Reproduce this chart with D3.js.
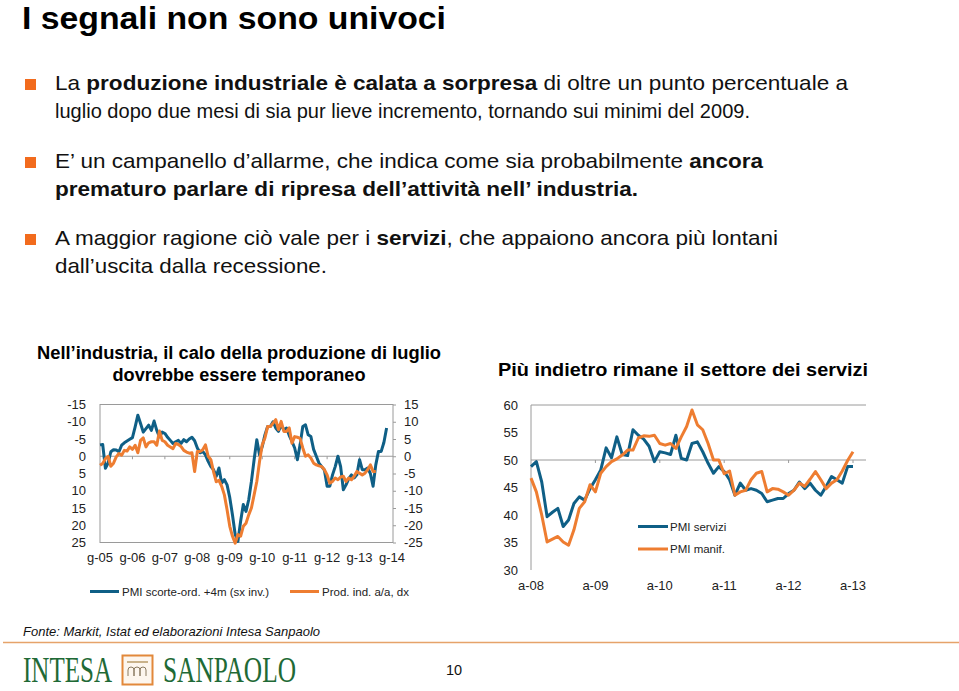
<!DOCTYPE html>
<html>
<head>
<meta charset="utf-8">
<script src="https://cdn.jsdelivr.net/npm/d3@7"></script>
<style>
  html, body { margin: 0; padding: 0; background: #fff; }
  svg { display: block; font-family: "Liberation Sans", Arial, sans-serif; }
</style>
</head>
<body>
<svg id="chart" width="959" height="691"></svg>
<script>
// ---------------- DATA ----------------
// Left chart: monthly, from g-05 (Jan 2005)
const leftCategories = ["g-05","g-06","g-07","g-08","g-09","g-10","g-11","g-12","g-13","g-14"];
const leftAxisTicks = [-15,-10,-5,0,5,10,15,20,25];     // left axis (inverted)
const rightAxisTicks = [15,10,5,0,-5,-10,-15,-20,-25];  // right axis
// PMI scorte-ord. +4m (left axis, inverted scale)
const pmiScorte = [
  -3.3,-3.4,3.5,2,-1.3,-1.9,-1.8,-1.3,-3.2,-3.9,-4.4,-4.9,
  -5.4,-8.5,-11.9,-9.5,-7,-8,-9,-7.5,-10.2,-7.5,-5.6,-7,
  -6.6,-5.5,-4.6,-3.7,-4.2,-4.6,-3.7,-4.8,-4.2,-5,-5.5,-4.5,
  -2.4,-1,-1.4,-0.4,1.5,3,3.9,5.8,3.4,7.8,6.8,8.3,
  12,17,22.7,24.7,18.9,14,16,12.6,7.3,1,-4.8,-0.4,
  -2.8,-6.2,-8.6,-8.6,-10,-8.2,-7.2,-9,-7.7,-8.2,-6,-4.3,
  -2.4,1,-3.3,-8.6,-9.1,-6.2,-5.7,-2,0,2,3,4,
  8.7,8.7,5.4,3,0,3,9.7,8.3,6.5,5.4,6.3,5.4,
  1,3.9,3.9,3.4,5,8.7,2.5,-1.4,-1.4,-4,-8.2
];
// Prod. ind. a/a (right axis)
const prodInd = [
  -2.6,-2.1,-0.7,0,-2.9,-2,-0.2,0.8,0.3,1.7,1.5,2.7,
  2,3.2,1,4.6,5.3,2.7,3.9,4.2,4.2,3.2,7.3,4.6,
  4.2,3.2,2.7,2.2,3.7,3.4,2.8,1.7,1.2,0.9,1,-4.4,
  1.4,1.4,1.9,3.3,0,-1,-4.5,-7.4,-7,-8.7,-11.2,-15.5,
  -20.3,-23.2,-25.2,-22.7,-23.2,-20.3,-19.4,-17,-15,-11.2,-7.3,-1.5,
  3.3,5.3,8.6,8.6,9.6,10.6,7.7,10.1,7.2,7.2,8.2,3.8,
  5.7,5.5,5.2,2.4,0,0.4,-0.5,-2,-2.5,-2.8,-3,-3.9,
  -5.4,-7.8,-7.3,-6.3,-6.8,-6,-5.8,-7.3,-6.3,-6.8,-5.8,-4.4,
  -4.9,-5.4,-4.9,-3.9,-2.5,-4.4,-4.4
];

// Right chart: monthly, from a-08
const rightCategories = ["a-08","a-09","a-10","a-11","a-12","a-13"];
const rightYTicks = [30,35,40,45,50,55,60];
const pmiServizi = [
  48.8,49.7,46,39.7,40.5,41.2,37.9,39.1,42.1,43.3,42.7,44.8,
  46.4,48.2,52.2,50.4,54.2,51,50.8,55.5,54.5,53.8,52.5,49.7,
  51.5,51.3,51,54.5,50.3,50,53,53.3,51.5,49.4,47.6,48.8,
  47.9,46.4,43.6,45.8,44.5,44.8,44.5,43.9,42.4,42.7,43,43,
  43.9,44.5,46,44.8,45.8,44.5,43.6,45.2,47,46.4,45.8,48.8,48.8
];
const pmiManif = [
  46.7,44.2,40,35.1,35.6,36.1,35.1,34.5,37.3,41.2,42.4,45.5,
  44.2,47.6,48.8,49.7,50.2,50.9,51.8,51.8,54,54.4,54.3,54.5,
  53,52.7,53,52.1,54.2,56.1,59.1,56.4,55.5,53,50,50,
  47.5,48,43.6,44.2,44.5,46.4,47.6,47.9,44.2,44.8,44.7,44.2,
  43.6,44.5,45.8,45.2,46.5,47.9,46.4,44.8,45.8,46.4,48,49.9,51.5
];

const BLUE = "#0f5f86";
const ORANGE = "#ee7d31";
const GRID = "#9a9a9a";
const AXFONT = 13;

const svg = d3.select("#chart");
svg.append("rect").attr("width", 959).attr("height", 691).attr("fill", "#fff");

// ---------------- HEADER ----------------
svg.append("text").attr("x", 22).attr("y", 29)
  .attr("font-size", 31.5).attr("font-weight", "bold").attr("fill", "#000")
  .attr("textLength", 424).attr("lengthAdjust", "spacingAndGlyphs")
  .text("I segnali non sono univoci");

const bullets = [
  {y: 90, sq: 79, lines: [
    {w: 793, parts: [["La ", false], ["produzione industriale è calata a sorpresa", true], [" di oltre un punto percentuale a", false]]},
    {w: 695, parts: [["luglio dopo due mesi di sia pur lieve incremento, tornando sui minimi del 2009.", false]]}
  ]},
  {y: 168, sq: 157, lines: [
    {w: 708, parts: [["E’ un campanello d’allarme, che indica come sia probabilmente ", false], ["ancora", true]]},
    {w: 583, parts: [["prematuro parlare di ripresa dell’attività nell’ industria.", true]]}
  ]},
  {y: 245, sq: 234, lines: [
    {w: 723, parts: [["A maggior ragione ciò vale per i ", false], ["servizi", true], [", che appaiono ancora più lontani", false]]},
    {w: 272, parts: [["dall’uscita dalla recessione.", false]]}
  ]}
];
bullets.forEach(b => {
  svg.append("rect").attr("x", 25).attr("y", b.sq).attr("width", 11).attr("height", 11).attr("fill", "#f26b1d");
  b.lines.forEach((ln, i) => {
    const t = svg.append("text").attr("x", 55).attr("y", b.y + i * 28)
      .attr("font-size", 21).attr("fill", "#111")
      .attr("textLength", ln.w).attr("lengthAdjust", "spacingAndGlyphs");
    ln.parts.forEach(p => t.append("tspan").attr("font-weight", p[1] ? "bold" : "normal").text(p[0]));
  });
});

// ---------------- LEFT CHART ----------------
const L = {x0: 100, x1: 392, y0: 404.5, y1: 542.5};
const xL = d3.scaleLinear().domain([0, 108]).range([L.x0, L.x1]);
const yLeft = d3.scaleLinear().domain([-15, 25]).range([L.y0, L.y1]);
const yRight = d3.scaleLinear().domain([15, -25]).range([L.y0, L.y1]);

svg.append("text").attr("x", 239).attr("y", 359).attr("text-anchor", "middle")
  .attr("font-size", 17.5).attr("font-weight", "bold")
  .attr("textLength", 404).attr("lengthAdjust", "spacingAndGlyphs")
  .text("Nell’industria, il calo della produzione di luglio");
svg.append("text").attr("x", 239).attr("y", 381).attr("text-anchor", "middle")
  .attr("font-size", 17.5).attr("font-weight", "bold")
  .attr("textLength", 253).attr("lengthAdjust", "spacingAndGlyphs")
  .text("dovrebbe essere temporaneo");

// box
svg.append("rect").attr("x", L.x0).attr("y", L.y0).attr("width", L.x1 - L.x0 + 1).attr("height", L.y1 - L.y0)
  .attr("fill", "none").attr("stroke", GRID).attr("stroke-width", 1);
// zero line
svg.append("line").attr("x1", L.x0).attr("x2", L.x1 + 1).attr("y1", yLeft(0)).attr("y2", yLeft(0))
  .attr("stroke", GRID).attr("stroke-width", 1);
// year ticks on zero line
svg.append("g").selectAll("line").data(leftCategories.slice(1, -1)).join("line")
  .attr("x1", (d, i) => xL((i + 1) * 12)).attr("x2", (d, i) => xL((i + 1) * 12))
  .attr("y1", yLeft(0)).attr("y2", yLeft(0) + 3).attr("stroke", GRID);

// left axis labels
const axL = svg.append("g").attr("transform", `translate(${L.x0 - 11},0)`)
  .call(d3.axisLeft(yLeft).tickValues(leftAxisTicks).tickSize(0).tickFormat(d => String(d)));
axL.select(".domain").remove();
axL.selectAll("text").attr("font-size", AXFONT).attr("fill", "#222").attr("font-family", "Liberation Sans, Arial, sans-serif");

// right axis
const axR = svg.append("g").attr("transform", `translate(${L.x1 + 1},0)`)
  .call(d3.axisRight(yRight).tickValues(rightAxisTicks).tickSize(3).tickPadding(8).tickFormat(d => String(d)));
axR.select(".domain").remove();
axR.selectAll("line").attr("stroke", GRID);
axR.selectAll("text").attr("font-size", AXFONT).attr("fill", "#222").attr("font-family", "Liberation Sans, Arial, sans-serif");

// x labels
svg.append("g").selectAll("text").data(leftCategories).join("text")
  .attr("x", (d, i) => xL(i * 12)).attr("y", 562).attr("text-anchor", "middle")
  .attr("font-size", AXFONT).attr("fill", "#222").text(d => d);

const lineBlueL = d3.line().x((d, i) => xL(i)).y(d => yLeft(d));
const lineOrL = d3.line().x((d, i) => xL(i)).y(d => yRight(d));
svg.append("path").datum(pmiScorte).attr("d", lineBlueL).attr("fill", "none")
  .attr("stroke", BLUE).attr("stroke-width", 3).attr("stroke-linejoin", "round");
svg.append("path").datum(prodInd).attr("d", lineOrL).attr("fill", "none")
  .attr("stroke", ORANGE).attr("stroke-width", 3).attr("stroke-linejoin", "round");

// legend left
const legL = [
  {x: 90, label: "PMI scorte-ord. +4m (sx inv.)", c: BLUE},
  {x: 290, label: "Prod. ind. a/a, dx", c: ORANGE}
];
legL.forEach(l => {
  svg.append("line").attr("x1", l.x).attr("x2", l.x + 29).attr("y1", 591.5).attr("y2", 591.5)
    .attr("stroke", l.c).attr("stroke-width", 3);
  svg.append("text").attr("x", l.x + 32).attr("y", 595.5).attr("font-size", 11.5).attr("fill", "#222").text(l.label);
});

// ---------------- RIGHT CHART ----------------
const R = {x0: 531, x1: 866, y0: 405, y1: 570};
const xR = d3.scaleLinear().domain([0, 60]).range([531, 853]);
const yR = d3.scaleLinear().domain([30, 60]).range([R.y1, R.y0]);

svg.append("text").attr("x", 683).attr("y", 376).attr("text-anchor", "middle")
  .attr("font-size", 17.5).attr("font-weight", "bold")
  .attr("textLength", 370).attr("lengthAdjust", "spacingAndGlyphs")
  .text("Più indietro rimane il settore dei servizi");

svg.append("line").attr("x1", R.x0).attr("x2", R.x1).attr("y1", R.y0).attr("y2", R.y0).attr("stroke", GRID);
svg.append("line").attr("x1", R.x0).attr("x2", R.x0).attr("y1", R.y0).attr("y2", R.y1).attr("stroke", GRID);
svg.append("line").attr("x1", R.x0).attr("x2", R.x1).attr("y1", yR(50)).attr("y2", yR(50)).attr("stroke", GRID);
svg.append("g").selectAll("line").data(rightCategories.slice(1)).join("line")
  .attr("x1", (d, i) => xR((i + 1) * 12)).attr("x2", (d, i) => xR((i + 1) * 12))
  .attr("y1", yR(50)).attr("y2", yR(50) + 3).attr("stroke", GRID);

const axRY = svg.append("g").attr("transform", `translate(${R.x0 - 10},0)`)
  .call(d3.axisLeft(yR).tickValues(rightYTicks).tickSize(0).tickFormat(d => String(d)));
axRY.select(".domain").remove();
axRY.selectAll("text").attr("font-size", AXFONT).attr("fill", "#222").attr("font-family", "Liberation Sans, Arial, sans-serif");

svg.append("g").selectAll("text").data(rightCategories).join("text")
  .attr("x", (d, i) => xR(i * 12)).attr("y", 590).attr("text-anchor", "middle")
  .attr("font-size", AXFONT).attr("fill", "#222").text(d => d);

const lineR = d3.line().x((d, i) => xR(i)).y(d => yR(d));
svg.append("path").datum(pmiServizi).attr("d", lineR).attr("fill", "none")
  .attr("stroke", BLUE).attr("stroke-width", 3).attr("stroke-linejoin", "round");
svg.append("path").datum(pmiManif).attr("d", lineR).attr("fill", "none")
  .attr("stroke", ORANGE).attr("stroke-width", 3).attr("stroke-linejoin", "round");

const legR = [
  {y: 526.5, label: "PMI servizi", c: BLUE},
  {y: 549, label: "PMI manif.", c: ORANGE}
];
legR.forEach(l => {
  svg.append("line").attr("x1", 638).attr("x2", 668).attr("y1", l.y).attr("y2", l.y)
    .attr("stroke", l.c).attr("stroke-width", 3);
  svg.append("text").attr("x", 670).attr("y", l.y + 4).attr("font-size", 11.5).attr("fill", "#222").text(l.label);
});

// ---------------- FOOTER ----------------
svg.append("text").attr("x", 23).attr("y", 636).attr("font-size", 13).attr("font-style", "italic")
  .attr("fill", "#111").text("Fonte: Markit, Istat ed elaborazioni Intesa Sanpaolo");
svg.append("line").attr("x1", 3).attr("x2", 959).attr("y1", 642.5).attr("y2", 642.5)
  .attr("stroke", "#e6a36a").attr("stroke-width", 1.5);
svg.append("text").attr("x", 446).attr("y", 675).attr("font-size", 14.5).attr("fill", "#111").text("10");

// logo
const GREEN = "#1f6a36";
svg.append("text").attr("x", 23).attr("y", 682).attr("font-family", "Liberation Serif, serif")
  .attr("font-size", 35).attr("fill", GREEN).attr("textLength", 89).attr("lengthAdjust", "spacingAndGlyphs").text("INTESA");
svg.append("text").attr("x", 163).attr("y", 682).attr("font-family", "Liberation Serif, serif")
  .attr("font-size", 35).attr("fill", GREEN).attr("textLength", 133).attr("lengthAdjust", "spacingAndGlyphs").text("SANPAOLO");
svg.append("rect").attr("x", 122.5).attr("y", 655.5).attr("width", 30).attr("height", 29)
  .attr("fill", "#fdf6ee").attr("stroke", "#e2883a").attr("stroke-width", 2);
svg.append("line").attr("x1", 127).attr("x2", 148).attr("y1", 662).attr("y2", 662).attr("stroke", "#c9b28a").attr("stroke-width", 2);
svg.append("path")
  .attr("d", "M128,676 v-6 a3,3 0 0 1 6,0 v6 M134,676 v-6 a3,3 0 0 1 6,0 v6 M140,676 v-6 a3,3 0 0 1 6,0 v6")
  .attr("fill", "none").attr("stroke", "#8a7a60").attr("stroke-width", 1);
</script>
</body>
</html>
